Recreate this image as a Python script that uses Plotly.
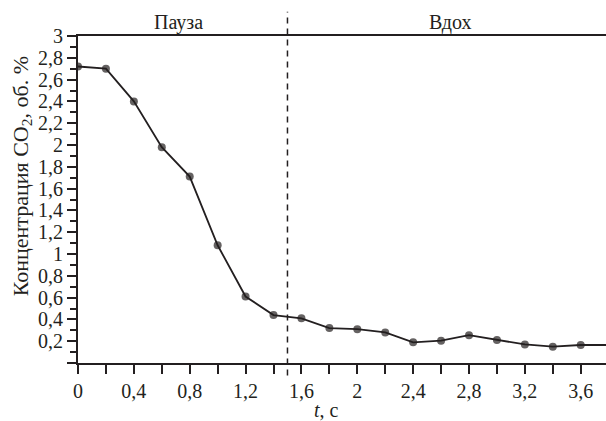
import plotly.graph_objects as go

# CO2 concentration during pause and inhalation
t = [0, 0.2, 0.4, 0.6, 0.8, 1.0, 1.2, 1.4, 1.6, 1.8, 2.0, 2.2, 2.4, 2.6, 2.8,
     3.0, 3.2, 3.4, 3.6, 3.8]
conc = [2.72, 2.70, 2.40, 1.98, 1.71, 1.08, 0.61, 0.44, 0.41, 0.32, 0.31, 0.28,
        0.19, 0.205, 0.255, 0.21, 0.17, 0.15, 0.165, 0.165]
marker_sizes = [8] * (len(t) - 1) + [0]

x_tickvals = [0, 0.4, 0.8, 1.2, 1.6, 2.0, 2.4, 2.8, 3.2, 3.6]
x_ticktext = ["0", "0,4", "0,8", "1,2", "1,6", "2", "2,4", "2,8", "3,2", "3,6"]
y_tickvals = [0, 0.2, 0.4, 0.6, 0.8, 1.0, 1.2, 1.4, 1.6, 1.8, 2.0, 2.2, 2.4,
              2.6, 2.8, 3.0]
y_ticktext = ["", "0,2", "0,4", "0,6", "0,8", "1", "1,2", "1,4", "1,6", "1,8",
              "2", "2,2", "2,4", "2,6", "2,8", "3"]

phase_boundary = 1.5
phase_labels = [("Пауза", 0.72), ("Вдох", 2.67)]

ink = "#231f20"
font = "Liberation Serif"

fig = go.Figure()
fig.add_trace(go.Scatter(
    x=t, y=conc, mode="lines+markers",
    line=dict(color=ink, width=1.8),
    marker=dict(color=ink, size=marker_sizes, line=dict(width=0)),
    showlegend=False,
))

fig.add_shape(type="line", xref="x", yref="paper",
              x0=phase_boundary, x1=phase_boundary, y0=-0.038, y1=1.074,
              line=dict(color=ink, width=1.5, dash="6px,5px"))

for text, xpos in phase_labels:
    fig.add_annotation(x=xpos, xref="x", y=1.0, yref="paper", yanchor="bottom",
                       xanchor="center", yshift=0, text=text, showarrow=False,
                       font=dict(family=font, size=20, color=ink))

fig.add_annotation(x=(326 - 78) / 528, xref="paper", y=-0.145, yref="paper",
                   xanchor="center", yanchor="middle",
                   text="<i>t</i>, с", showarrow=False,
                   font=dict(family=font, size=20, color=ink))
fig.add_annotation(x=-0.106, xref="paper", y=0.571, yref="paper",
                   xanchor="center", yanchor="middle",
                   text="Концентрация CO<sub>2</sub>, об. %", textangle=-90,
                   showarrow=False, font=dict(family=font, size=22, color=ink))

fig.update_xaxes(
    range=[0, 3.781], showline=True, linecolor=ink, linewidth=2,
    mirror=True, showgrid=False, zeroline=False,
    tickmode="array", tickvals=x_tickvals, ticktext=x_ticktext,
    ticks="outside", ticklen=9, tickwidth=1.5, tickcolor=ink,
    minor=dict(tickmode="linear", tick0=0, dtick=0.2, ticks="outside",
               ticklen=9, tickwidth=1.5, tickcolor=ink),
    tickfont=dict(family=font, size=20, color=ink),
)
fig.update_yaxes(
    range=[0, 3], showline=True, linecolor=ink, linewidth=2,
    showgrid=False, zeroline=False,
    tickmode="array", tickvals=y_tickvals, ticktext=y_ticktext,
    ticks="outside", ticklen=9, tickwidth=1.5, tickcolor=ink,
    minor=dict(tickmode="linear", tick0=0, dtick=0.1, ticks="outside",
               ticklen=6, tickwidth=1.5, tickcolor=ink),
    tickfont=dict(family=font, size=20, color=ink),
)

fig.update_layout(
    width=606, height=421,
    margin=dict(l=78, r=0, t=36, b=58),
    plot_bgcolor="white", paper_bgcolor="white",
    font=dict(family=font, color=ink),
)

fig.write_html("out.html")
